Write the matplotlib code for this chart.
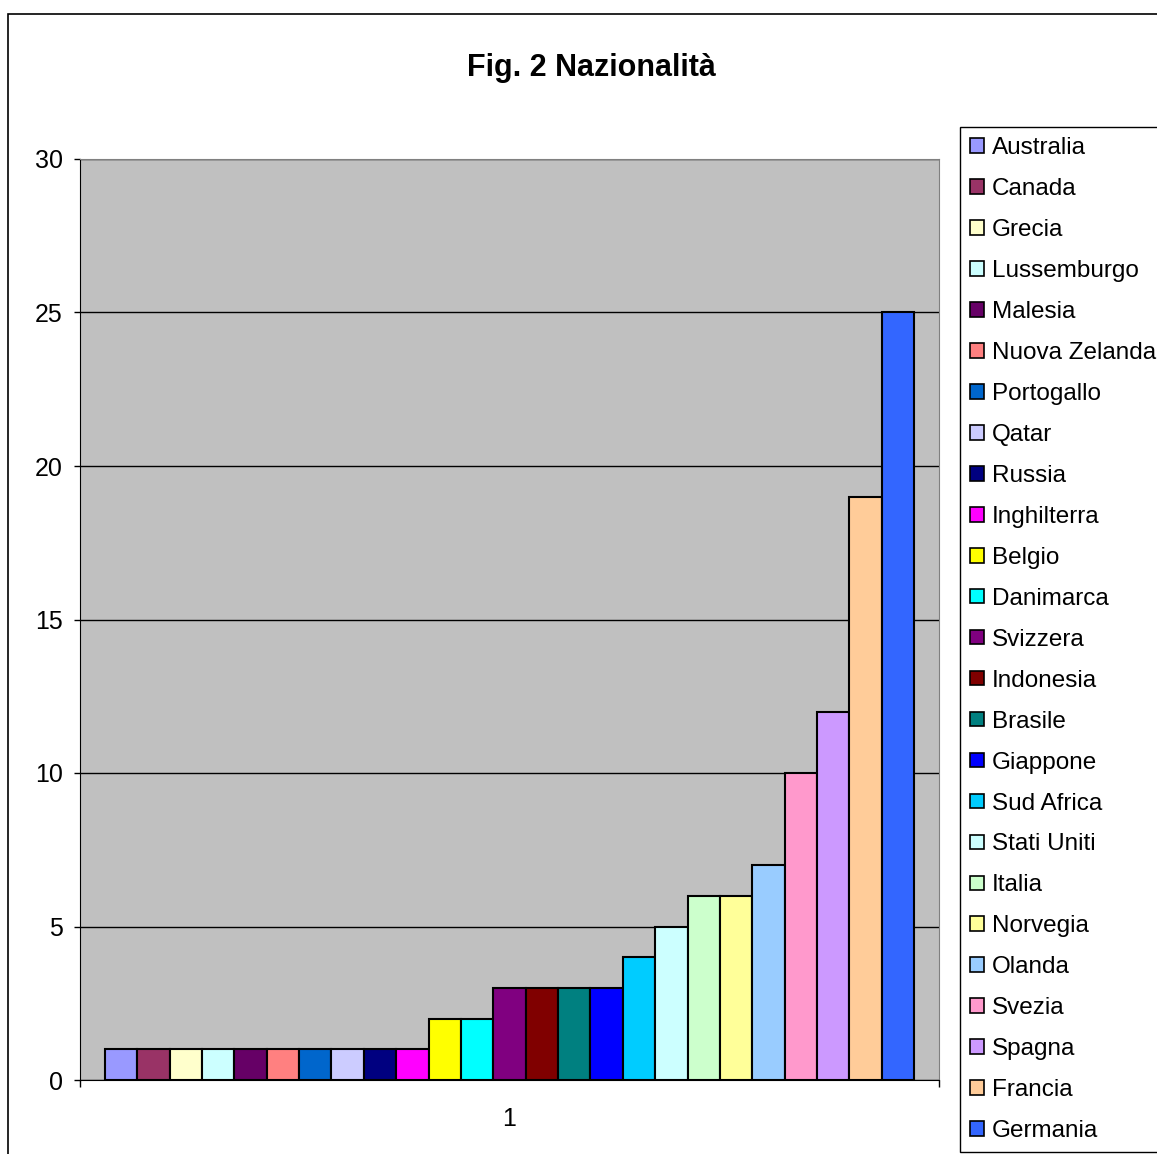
import matplotlib.pyplot as plt
from matplotlib.patches import Patch, Rectangle

plt.rcParams['font.family'] = ['Liberation Sans', 'DejaVu Sans']

# Data
countries = ['Australia', 'Canada', 'Grecia', 'Lussemburgo', 'Malesia', 'Nuova Zelanda',
             'Portogallo', 'Qatar', 'Russia', 'Inghilterra', 'Belgio', 'Danimarca',
             'Svizzera', 'Indonesia', 'Brasile', 'Giappone', 'Sud Africa', 'Stati Uniti',
             'Italia', 'Norvegia', 'Olanda', 'Svezia', 'Spagna', 'Francia', 'Germania']
counts = [1, 1, 1, 1, 1, 1, 1, 1, 1, 1, 2, 2, 3, 3, 3, 3, 4, 5, 6, 6, 7, 10, 12, 19, 25]
colors = ['#9999FF', '#993366', '#FFFFCC', '#CCFFFF', '#660066', '#FF8080',
          '#0066CC', '#CCCCFF', '#000080', '#FF00FF', '#FFFF00', '#00FFFF',
          '#800080', '#800000', '#008080', '#0000FF', '#00CCFF', '#CCFFFF',
          '#CCFFCC', '#FFFF99', '#99CCFF', '#FF99CC', '#CC99FF', '#FFCC99', '#3366FF']
y_ticks = [0, 5, 10, 15, 20, 25, 30]
category_label = '1'

fig = plt.figure(figsize=(11.57, 11.54), dpi=100)
ax = fig.add_axes([80 / 1157, 74 / 1154, 859 / 1157, 921 / 1154])
ax.set_facecolor('#C0C0C0')

n = len(counts)
xs = list(range(n))
ax.bar(xs, counts, width=1.0, color=colors, edgecolor='black', linewidth=1.5, zorder=3)

gap = 0.77
ax.set_xlim(-0.5 - gap, n - 0.5 + gap)
ax.set_ylim(0, 30)

# gridlines
ax.set_yticks(y_ticks)
ax.yaxis.grid(True, color='black', linewidth=1)
ax.set_axisbelow(True)
ax.tick_params(axis='y', labelsize=18, length=4.5, width=1, pad=8, direction='out')

# x axis: ticks at edges, label at center
ax.set_xticks([-0.5 - gap, n - 0.5 + gap])
ax.set_xticklabels(['', ''])
ax.tick_params(axis='x', which='major', length=5, width=1, direction='out')
ax.set_xticks([(n - 1) / 2], minor=True)
ax.set_xticklabels([category_label], minor=True)
ax.tick_params(axis='x', which='minor', length=0, labelsize=18, pad=19.5)

ax.spines['top'].set_color('#808080')
ax.spines['right'].set_color('#808080')
ax.spines['left'].set_color('black')
ax.spines['bottom'].set_color('black')

fig.text(591 / 1157, 1 - 68 / 1154, 'Fig. 2 Nazionalità', ha='center', va='center',
         fontsize=22, fontweight='bold')

handles = [Patch(facecolor=c, edgecolor='black', linewidth=1.2) for c in colors]
leg = fig.legend(handles, countries, loc='upper left',
                 bbox_to_anchor=(960 / 1157, 1 - 127 / 1154),
                 fontsize=17.5, frameon=True, fancybox=False, framealpha=1,
                 edgecolor='black', borderaxespad=0, borderpad=0.42,
                 handlelength=0.55, handleheight=0.55, handletextpad=0.34,
                 labelspacing=0.78)
leg.get_frame().set_linewidth(1)

# outer chart border
fig.patches.append(Rectangle((8 / 1157, -0.05), 1.1, 1.05 - 14 / 1154,
                             transform=fig.transFigure, fill=False,
                             edgecolor='black', linewidth=1.2))

fig.savefig('out.png', dpi=100)
